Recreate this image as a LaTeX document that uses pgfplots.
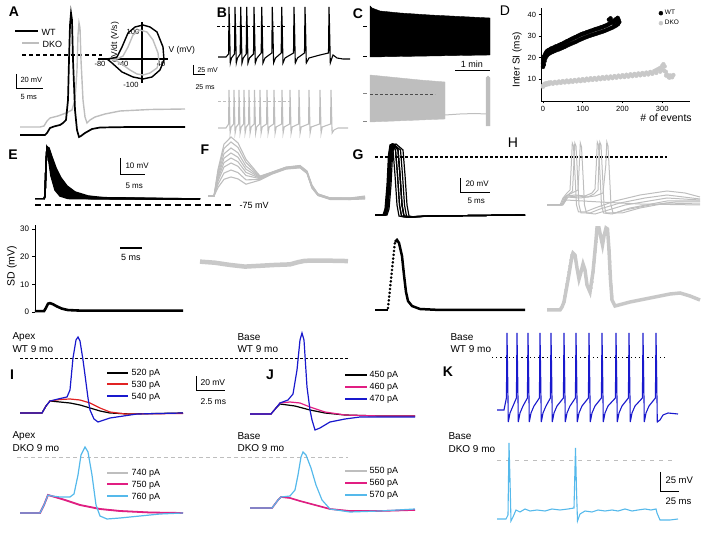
\documentclass[border=0pt]{standalone}
\usepackage{pgfplots}
\pgfplotsset{compat=1.18}
\usepackage{fontspec}
\setmainfont{Liberation Sans}
\newcommand{\fs}[1]{\fontsize{#1}{#1}\selectfont}
\definecolor{wtblue}{RGB}{25,25,205}
\definecolor{dkocyan}{RGB}{85,185,235}
\definecolor{mag}{RGB}{225,30,130}
\definecolor{redc}{RGB}{225,35,35}
\definecolor{gr}{RGB}{190,190,190}
\definecolor{grl}{RGB}{200,200,200}

\begin{document}
\begin{tikzpicture}
\path[use as bounding box] (0,0) rectangle (705pt,545pt);

% whole figure in pixel units (y down)
\begin{axis}[at={(0,0)}, anchor=south west, scale only axis,
  width=705pt, height=545pt, xmin=0, xmax=705, ymin=0, ymax=545,
  y dir=reverse, hide axis, clip=false]

% panel letters
\node[font=\fs{14}\bfseries] at (axis cs:14,12) {A};
\node[font=\fs{14}\bfseries] at (axis cs:222,13) {B};
\node[font=\fs{14}\bfseries] at (axis cs:358,14) {C};
\node[font=\fs{14}] at (axis cs:505,11) {D};
\node[font=\fs{14}\bfseries] at (axis cs:13,155) {E};
\node[font=\fs{14}\bfseries] at (axis cs:205,150) {F};
\node[font=\fs{14}\bfseries] at (axis cs:358,155) {G};
\node[font=\fs{14}] at (axis cs:513,143) {H};
\node[font=\fs{14}\bfseries] at (axis cs:12,375) {I};
\node[font=\fs{14}\bfseries] at (axis cs:270,375) {J};
\node[font=\fs{14}\bfseries] at (axis cs:448,372) {K};

% ---------- A ----------
\draw[black, line width=1.4pt] (axis cs:15,31) -- (axis cs:38,31);
\node[font=\fs{9}, anchor=west] at (axis cs:38,32) {WT};
\draw[gr, line width=1.4pt] (axis cs:22,43) -- (axis cs:39,43);
\node[font=\fs{9}, anchor=west] at (axis cs:39,44) {DKO};
\draw[black, line width=1.1pt, dash pattern=on 4pt off 3pt] (axis cs:22,55) -- (axis cs:102,55);
\draw[black, line width=1pt] (axis cs:16,74) -- (axis cs:16,89) -- (axis cs:43,89);
\node[font=\fs{7.5}, anchor=west] at (axis cs:17,80) {20 mV};
\node[font=\fs{7.5}, anchor=west] at (axis cs:17,97) {5 ms};
\addplot[gr, line width=1.4pt] coordinates {(20,127)(40,127)(44,126)(47,121)(50,118)(58,116)(66,113)(72,110)(75,100)(77,70)(78,35)(79,23)(80,28)(81,60)(83,100)(85,117)(87,123)(90,120)(95,117)(105,114)(120,111)(150,109.5)(185,109)};
\addplot[black, line width=1.7pt] coordinates {(20,135)(45,135)(47,133)(50,128)(54,126.5)(60,125)(63,123)(66,120)(68,100)(69,60)(70,25)(71,13)(72,20)(73,60)(75,110)(77,130)(79,137)(81,136)(85,133)(92,129)(100,127.5)(130,127)(185,127)};
% inset phase plot
\draw[black, line width=1.1pt] (axis cs:98,59) -- (axis cs:168,59);
\draw[black, line width=1.1pt] (axis cs:142,22) -- (axis cs:142,83);
\node[font=\fs{7.5}] at (axis cs:100,64) {-80};
\node[font=\fs{7.5}] at (axis cs:123,64) {-40};
\node[font=\fs{7.5}] at (axis cs:161,64) {40};
\node[font=\fs{7.5}] at (axis cs:133,32) {100};
\node[font=\fs{7.5}] at (axis cs:131,85) {-100};
\node[font=\fs{8.5}, rotate=90] at (axis cs:115,42) {dV/dt (V/s)};
\node[font=\fs{8.5}, anchor=west] at (axis cs:165,50) {V (mV)};
\addplot[gr, line width=1.4pt] coordinates {(110,59)(117,59)(123,56)(128,47)(133,35)(140,30)(147,32)(153,40)(158,53)(159,62)(157,68)(150,73)(143,75)(137,74)(130,70)(123,65)(117,61)(110,59)};
\addplot[black, line width=1.4pt] coordinates {(107,59)(113,58)(117,57)(122,47)(128,33)(135,27)(143,25)(150,27)(157,32)(163,47)(164,60)(160,70)(152,77)(143,79)(133,77)(122,72)(112,63)(107,59)};

% ---------- B ----------
\draw[black, line width=1pt, dash pattern=on 3pt off 2pt] (axis cs:217,27) -- (axis cs:285,27);
\addplot[black, line width=1.1pt] coordinates {(218,57)(226,57)(228.6,54)(229,7)(229.5,25)(230.3,63)(231.5,58)(234.5,54)(235,7)(235.5,25)(236.3,63)(237.5,58)(240.2,54)(240.7,7)(241.2,25)(242,63)(243.3,58)(246.2,54)(246.7,7)(247.2,25)(248,63)(249.5,58)(253.5,54)(254,7)(254.5,25)(255.3,63)(257,58)(261.2,53)(261.7,7)(262.2,25)(263,63)(265,58)(271.8,53)(272.3,7)(272.8,25)(273.6,63)(275.5,58)(281.2,53)(281.7,7)(282.2,25)(283,63)(285,58)(293.5,53)(294,7)(294.5,25)(295.3,63)(297.5,58)(304.5,53)(305,7)(305.5,25)(306.3,63)(309,58)(320,55)(328.5,53)(329,7)(329.5,25)(330.3,63)(333,55)(337,58)(343,59)(350,59)};
\draw[black, line width=1pt] (axis cs:193,65) -- (axis cs:193,75) -- (axis cs:205,75);
\node[font=\fs{7}, anchor=west] at (axis cs:194,70) {25 mV};
\node[font=\fs{7}, anchor=west] at (axis cs:192,87) {25 ms};
\draw[gr, line width=1pt, dash pattern=on 3pt off 2pt] (axis cs:218,102) -- (axis cs:290,102);
\addplot[gr, line width=1.1pt] coordinates {(218,128)(226,128)(228.6,124)(229,90)(229.4,105)(230.1,133)(231.2,127)(233.6,124)(234,90)(234.4,105)(235.1,133)(236.2,127)(238.6,124)(239,90)(239.4,105)(240.1,133)(241.2,127)(243.6,124)(244,90)(244.4,105)(245.1,133)(246.2,127)(248.6,124)(249,90)(249.4,105)(250.1,133)(251.2,127)(254.1,124)(254.5,90)(254.9,105)(255.6,133)(256.7,127)(259.6,124)(260,90)(260.4,105)(261.1,133)(262.2,127)(266.6,124)(267,90)(267.4,105)(268.1,133)(269.2,127)(273.6,124)(274,90)(274.4,105)(275.1,133)(276.2,127)(281.6,124)(282,90)(282.4,105)(283.1,133)(284.2,127)(289.6,124)(290,90)(290.4,105)(291.1,133)(292.2,127)(298.6,124)(299,90)(299.4,105)(300.1,133)(301.2,127)(308.6,124)(309,90)(309.4,105)(310.1,133)(311.2,127)(319.6,124)(320,90)(320.4,105)(321.1,133)(322.2,127)(330.6,124)(331,90)(331.4,105)(332.1,133)(334,130)(338,128)(348,128)};

% ---------- C ----------
\addplot[draw=black, fill=black] coordinates {(370,57)(370,6)(372,8)(380,11)(400,13)(430,15)(460,16.5)(490,18)(490,55)} --cycle;
\draw[black, line width=1pt] (axis cs:363,27) -- (axis cs:367,27);
\draw[black, line width=1pt] (axis cs:363,57) -- (axis cs:367,57);
\draw[black, line width=1pt] (axis cs:455,71) -- (axis cs:490,71);
\node[font=\fs{9}] at (axis cs:472,64) {1 min};
\addplot[draw=gr, fill=gr] coordinates {(370,122)(370,75)(380,76)(400,78)(420,80)(445,82)(445,119)} --cycle;
\addplot[gr, line width=1pt] coordinates {(445,115)(460,114)(475,113.5)(486,114)};
\addplot[draw=gr, fill=gr] coordinates {(486,126)(486,78)(488,76)(490,78)(490,126)} --cycle;
\draw[black!70, line width=0.8pt, dash pattern=on 3pt off 2pt] (axis cs:370,94) -- (axis cs:435,94);
\draw[gr!70!black, line width=1pt] (axis cs:363,94) -- (axis cs:367,94);
\draw[gr!70!black, line width=1pt] (axis cs:363,122) -- (axis cs:367,122);

% ---------- D labels ----------
\node[font=\fs{10}, rotate=90] at (axis cs:517,60) {Inter SI (ms)};
\node[font=\fs{10.5}] at (axis cs:666,118) {\# of events};

% ---------- E ----------
\addplot[draw=black, fill=black] coordinates {(46,165)(47,147)(49,148)(52,157)(56,168)(61,178)(67,186)(75,192)(88,196)(110,198.5)(110,199)(68,198.5)(60,196)(55,190)(51,176)(49,162)(47.5,150)(47,149)} --cycle;
\addplot[black, line width=1.5pt] coordinates {(35,199)(44,199)(45,196)(46,165)(47,147)(49,148)(52,157)(56,168)(61,178)(67,186)(75,192)(88,196)(110,198.5)(200,199)};
\addplot[black, line width=1.5pt] coordinates {(44,199)(45,196)(46,165)(47,147)(48.5,148)(51,156)(55,170)(60,181)(66,189)(74,194)(88,197.5)(200,199)};
\addplot[black, line width=1.5pt] coordinates {(44,199)(45,196)(46,165)(47,147)(48,148)(50,157)(54,172)(58,183)(64,191)(72,195.5)(90,198.5)(200,199)};
\addplot[black, line width=1.5pt] coordinates {(44,199)(45,196)(46,165)(47,147)(48,149)(50,160)(53,174)(57,186)(62,192)(70,196.5)(90,198.7)(200,199)};
\addplot[black, line width=1.5pt] coordinates {(44,199)(45,196)(46,165)(47,148)(47.5,149)(49,158)(52,175)(56,188)(61,194)(68,197.5)(200,199)};
\addplot[black, line width=1.5pt] coordinates {(44,199)(45,196)(46,165)(47,149)(47.5,150)(49,162)(51,176)(55,190)(60,196)(68,198.5)(200,199)};
\draw[black, line width=1pt] (axis cs:120,158) -- (axis cs:120,175) -- (axis cs:145,175);
\node[font=\fs{8}, anchor=west] at (axis cs:122,166) {10 mV};
\node[font=\fs{8}, anchor=west] at (axis cs:122,186) {5 ms};
\draw[black, line width=1.1pt, dash pattern=on 6pt off 4pt] (axis cs:35,205) -- (axis cs:232,205);
\node[font=\fs{9}, anchor=west] at (axis cs:236,205) {-75 mV};
\draw[black, line width=1.2pt] (axis cs:120,248) -- (axis cs:142,248);
\node[font=\fs{9}] at (axis cs:131,257) {5 ms};
\node[font=\fs{10.5}, rotate=90] at (axis cs:12,266) {SD (mV)};

% ---------- F ----------
\addplot[gr, line width=1.1pt] coordinates {(208,196)(214,196)(218,169.5)(224,144.1)(231,137)(238,142.9)(246,159.4)(260,176.1)(272,172.1)(286,167.1)(300,165.5)(307,171)(312,185)(318,194)(330,198)(350,198)(365,196)};
\addplot[gr, line width=1.1pt] coordinates {(208,196)(214,196)(218,171.7)(224,148.5)(231,142)(238,147.4)(246,162.5)(260,176.6)(272,172.3)(286,167.3)(300,165.8)(307,171.5)(312,186)(318,194)(330,198)(350,198)(365,197)};
\addplot[gr, line width=1.1pt] coordinates {(208,196)(214,196)(218,174.4)(224,153.8)(231,148)(238,152.8)(246,166.2)(260,177.2)(272,172.6)(286,167.6)(300,166.1)(307,172)(312,186)(318,194.5)(330,198)(350,198.5)(365,197)};
\addplot[gr, line width=1.1pt] coordinates {(208,196)(214,196)(218,176.7)(224,158.2)(231,153)(238,157.3)(246,169.3)(260,177.7)(272,172.9)(286,167.9)(300,166.4)(307,172)(312,187)(318,194.5)(330,198.5)(350,198.5)(365,197.5)};
\addplot[gr, line width=1.1pt] coordinates {(208,196)(214,196)(218,178.9)(224,162.6)(231,158)(238,161.8)(246,172.4)(260,178.2)(272,173.1)(286,168.1)(300,166.7)(307,172.5)(312,187)(318,195)(330,198.5)(350,199)(365,198)};
\addplot[gr, line width=1.1pt] coordinates {(208,196)(214,196)(218,181.2)(224,167)(231,163)(238,166.3)(246,175.5)(260,178.7)(272,173.4)(286,168.4)(300,167)(307,173)(312,187.5)(318,195)(330,199)(350,199)(365,198)};
\addplot[gr, line width=1.1pt] coordinates {(208,196)(214,196)(218,184.3)(224,173.1)(231,170)(238,172.6)(246,179.9)(260,179.4)(272,173.7)(286,168.7)(300,167.4)(307,173)(312,188)(318,195.5)(330,199)(350,199.5)(365,198.5)};
\addplot[gr, line width=1.1pt] coordinates {(208,196)(214,196)(218,187.5)(224,179.3)(231,177)(238,178.9)(246,184.2)(260,180.1)(272,174.1)(286,169.1)(300,167.9)(307,173.5)(312,188)(318,195.5)(330,199.5)(350,199.5)(365,199)};

% ---------- G ----------
\draw[black, line width=1.1pt, dash pattern=on 3pt off 2pt] (axis cs:375,157) -- (axis cs:667,157);
\addplot[black, line width=1.2pt] coordinates {(375,215)(383,215)(385,209)(387,185)(388.5,155)(390,145)(392,144)(393,150)(395,175)(397,205)(399,216)(404,217)(430,216)(525,215)};
\addplot[black, line width=1.2pt] coordinates {(375,215)(383.5,215)(385.5,209)(387.5,185)(389,155)(390.5,145)(392.5,144)(395.5,150)(397.5,175)(399.5,205)(401.5,216)(406.5,217)(430,216)(525,215)};
\addplot[black, line width=1.2pt] coordinates {(375,215)(384,215)(386,209)(388,185)(389.5,155)(391,145)(393,144)(398,150)(400,175)(402,205)(404,216)(409,217)(430,216)(525,215)};
\addplot[black, line width=1.2pt] coordinates {(375,215)(384.5,215)(386.5,209)(388.5,185)(390,155)(391.5,145)(393.5,146)(395.5,150)(397.5,175)(399.5,205)(401.5,216)(406.5,217)(430,216)(525,215)};
\addplot[black, line width=1.2pt] coordinates {(375,215)(385,215)(387,209)(389,185)(390.5,155)(392,145)(394,144)(398,150)(400,175)(402,205)(404,216)(409,217)(430,216)(525,215)};
\addplot[black, line width=1.2pt] coordinates {(375,215)(385.5,215)(387.5,209)(389.5,185)(391,155)(392.5,146)(394.5,145)(400.5,150)(402.5,175)(404.5,205)(406.5,216)(411.5,217)(430,216)(525,215)};
\addplot[black, line width=1.2pt] coordinates {(375,215)(386,215)(388,209)(390,185)(391.5,155)(393,147)(395,146)(398,150)(400,175)(402,205)(404,216)(409,217)(430,216)(525,215)};
\addplot[black, line width=1.2pt] coordinates {(375,215)(387,215)(389,209)(391,185)(392.5,155)(394,145)(396,144)(403,150)(405,175)(407,205)(409,216)(414,217)(430,216)(525,215)};
\draw[black, line width=1pt] (axis cs:460,178) -- (axis cs:460,193) -- (axis cs:490,193);
\node[font=\fs{8}, anchor=west] at (axis cs:462,184) {20 mV};
\node[font=\fs{8}, anchor=west] at (axis cs:464,201) {5 ms};
% G SD
\addplot[black, line width=2.5pt] coordinates {(375,310)(388,310)};
\addplot[only marks, mark=*, mark size=1.1pt, black] coordinates {(388,308)(388.4,304.2)(388.8,300.4)(389.2,296.6)(389.6,292.8)(390,289)(390.4,285.2)(390.8,281.4)(391.2,277.6)(391.6,273.8)(392,270)(392.4,266.2)(392.8,262.4)(393.2,258.6)(393.6,254.8)(394,251)(394.4,247.2)(394.8,243.4)};
\addplot[black, line width=2.5pt] coordinates {(395,242)(397,240)(399,243)(402,256)(404,275)(406,292)(408,301)(412,306)(420,309)(440,310)(525,310)};

% ---------- H ----------
\addplot[gr, line width=1pt] coordinates {(547,205)(562,205)(566,200)(600,202)(640,204)(700,205)};
\addplot[gr, line width=1pt] coordinates {(547,205)(560,205)(563,198)(567,193)(570,190)(571.3,165)(572.3,143)(573.5,146)(575,175)(576.5,205)(578.5,212)(585,212)(595,208)(615,201)(640,195)(667,191)(685,193)(700,197)};
\addplot[gr, line width=1pt] coordinates {(547,205)(561,205)(564,198)(569,194)(572.5,191)(573.8,165)(574.8,143)(576,146)(577.5,175)(579,205)(581,213)(590,213)(600,209)(620,203)(645,198)(667,195)(700,199)};
\addplot[gr, line width=1pt] coordinates {(547,205)(562,205)(566,196)(572,193)(578,190)(579.3,165)(580.3,143)(581.5,147)(583,175)(584.5,205)(586.5,213)(595,214)(605,211)(625,205)(667,198)(700,200)};
\addplot[gr, line width=1pt] coordinates {(547,205)(562,205)(567,196)(575,195)(585,196)(592,193)(595,189)(596.3,165)(597.3,142)(598.5,145)(600,175)(601.5,205)(603.5,213)(612,214)(625,210)(650,205)(675,202)(700,202)};
\addplot[gr, line width=1pt] coordinates {(547,205)(563,205)(568,197)(578,196)(588,197)(594,194)(598,190)(598.8,165)(599.8,142)(601,145)(602.5,175)(604,205)(606,213)(615,213)(630,208)(667,201)(700,201)};
\addplot[gr, line width=1pt] coordinates {(547,205)(562,205)(567,197)(580,198)(595,196)(603,193)(605.8,165)(606.8,142)(608,146)(609.5,175)(611,205)(613,213)(622,213)(640,208)(667,203)(700,204)};
% H SD
\addplot[grl, line width=3.5pt] coordinates {(547,310)(560,310)(562,307)(564,302)(568,280)(572,256)(573,253)(575,255)(577,268)(579,279)(581,272)(583,264)(585,270)(587,285)(590,292)(593,272)(596,240)(597,228)(599,228)(601,238)(602.5,245)(604,236)(606,228)(607.5,229)(609,250)(610.5,280)(612,300)(615,306)(630,302)(650,298)(670,294)(680,293)(690,296)(700,300)};
\addplot[only marks, mark=*, mark size=1.6pt, grl] coordinates {(564,302)(565,296)(566,290)(567,284)(568,278)(569,272)(570,266)(571,260)(572,255)(591,288)(592,282)(593,272)(594,262)(595,252)(596,242)(596.7,234)(609,250)(609.7,262)(610.3,274)(611,286)(611.7,296)};

% ---------- I ----------
\node[font=\fs{10}, anchor=west] at (axis cs:9,337) {Apex};
\node[font=\fs{10}, anchor=west] at (axis cs:9,349) {WT 9 mo};
\node[font=\fs{10}, anchor=west] at (axis cs:9,436) {Apex};
\node[font=\fs{10}, anchor=west] at (axis cs:9,448) {DKO 9 mo};
\draw[black, line width=1pt, dash pattern=on 3pt off 2pt] (axis cs:20,359) -- (axis cs:348,359);
\draw[gr, line width=1pt, dash pattern=on 4pt off 3pt] (axis cs:17,458) -- (axis cs:348,458);
\draw[black, line width=1.2pt] (axis cs:107,373) -- (axis cs:128,373);
\draw[redc, line width=1.2pt] (axis cs:107,384) -- (axis cs:128,384);
\draw[wtblue, line width=1.2pt] (axis cs:107,396) -- (axis cs:128,396);
\node[font=\fs{9}, anchor=west] at (axis cs:128,373) {520 pA};
\node[font=\fs{9}, anchor=west] at (axis cs:128,385) {530 pA};
\node[font=\fs{9}, anchor=west] at (axis cs:128,397) {540 pA};
\draw[gr, line width=1.2pt] (axis cs:107,473) -- (axis cs:128,473);
\draw[mag, line width=1.8pt] (axis cs:107,484) -- (axis cs:128,484);
\draw[dkocyan, line width=1.2pt] (axis cs:107,496) -- (axis cs:128,496);
\node[font=\fs{9}, anchor=west] at (axis cs:128,473) {740 pA};
\node[font=\fs{9}, anchor=west] at (axis cs:128,485) {750 pA};
\node[font=\fs{9}, anchor=west] at (axis cs:128,497) {760 pA};
\draw[black, line width=1pt] (axis cs:196,376) -- (axis cs:196,391) -- (axis cs:225,391);
\node[font=\fs{8.5}, anchor=west] at (axis cs:197,383) {20 mV};
\node[font=\fs{8.5}, anchor=west] at (axis cs:197,402) {2.5 ms};
\addplot[black, line width=1.2pt] coordinates {(20,413)(42,413)(46,406)(50,401)(60,402)(70,403)(80,405)(90,408)(100,411)(110,413)(130,414)(183,413)};
\addplot[redc, line width=1.2pt] coordinates {(20,413)(42,413)(46,406)(50,401)(60,399.5)(70,399)(80,400)(90,403)(100,408)(110,412)(125,414)(183,413.5)};
\addplot[wtblue, line width=1.2pt] coordinates {(20,413)(42,413)(46,406)(50,401)(58,399)(67,397)(70,390)(73,358)(76,340)(78,337)(80,341)(83,360)(85,375)(88,398)(90,410)(94,419)(98,422)(110,418)(137,414)(183,413)};
\addplot[gr, line width=1.2pt] coordinates {(20,513)(40,513)(44,505)(48,495)(55,497)(65,500)(80,505)(100,509)(120,511)(150,512.5)(183,513)};
\addplot[mag, line width=1.8pt] coordinates {(20,513)(40,513)(44,505)(48,495)(55,497)(65,500)(80,505)(100,509)(120,511)(150,512.5)(183,513)};
\addplot[dkocyan, line width=1.2pt] coordinates {(20,513)(40,513)(44,505)(48,495)(52,496)(60,497)(70,497)(74,494)(78,475)(81,455)(85,447)(88,452)(92,475)(96,505)(100,516)(107,519)(120,518)(140,516)(160,514)(183,513)};

% ---------- J ----------
\node[font=\fs{10}, anchor=west] at (axis cs:234,337) {Base};
\node[font=\fs{10}, anchor=west] at (axis cs:234,349) {WT 9 mo};
\node[font=\fs{10}, anchor=west] at (axis cs:234,436) {Base};
\node[font=\fs{10}, anchor=west] at (axis cs:234,448) {DKO 9 mo};
\draw[black, line width=1.2pt] (axis cs:345,375) -- (axis cs:367,375);
\draw[mag, line width=1.2pt] (axis cs:345,387) -- (axis cs:367,387);
\draw[wtblue, line width=1.2pt] (axis cs:345,399) -- (axis cs:367,399);
\node[font=\fs{9}, anchor=west] at (axis cs:366,375) {450 pA};
\node[font=\fs{9}, anchor=west] at (axis cs:366,387) {460 pA};
\node[font=\fs{9}, anchor=west] at (axis cs:366,399) {470 pA};
\draw[gr, line width=1.2pt] (axis cs:345,471) -- (axis cs:367,471);
\draw[mag, line width=1.2pt] (axis cs:345,483) -- (axis cs:367,483);
\draw[dkocyan, line width=1.2pt] (axis cs:345,495) -- (axis cs:367,495);
\node[font=\fs{9}, anchor=west] at (axis cs:366,471) {550 pA};
\node[font=\fs{9}, anchor=west] at (axis cs:366,483) {560 pA};
\node[font=\fs{9}, anchor=west] at (axis cs:366,495) {570 pA};
\addplot[black, line width=1.2pt] coordinates {(250,414)(271,414)(276,408)(280,404)(295,406)(310,410)(325,413)(345,415)(380,416)(415,416)};
\addplot[mag, line width=1.2pt] coordinates {(250,414)(271,414)(276,408)(280,403)(290,402)(300,403)(310,407)(325,412)(345,415)(380,416)(415,416)};
\addplot[wtblue, line width=1.2pt] coordinates {(250,414)(271,414)(276,408)(280,403)(288,400)(293,394)(297,370)(300,340)(302,333)(304,340)(307,387)(310,410)(312,420)(315,430)(320,428)(330,422)(345,419)(360,417)(415,417)};
\addplot[gr, line width=1.2pt] coordinates {(250,508)(272,508)(278,500)(281,497)(290,498)(300,501)(315,505)(330,509)(350,511)(380,511)(415,510)};
\addplot[mag, line width=1.6pt] coordinates {(250,508)(272,508)(278,500)(281,497)(290,498)(300,501)(315,505)(330,509)(350,511)(380,511)(415,510)};
\addplot[dkocyan, line width=1.2pt] coordinates {(250,508)(272,508)(278,500)(281,497)(290,496)(295,490)(298,475)(301,457)(303,452)(306,455)(311,468)(316,485)(322,500)(330,509)(350,512)(380,511)(415,509)};

% ---------- K ----------
\node[font=\fs{10}, anchor=west] at (axis cs:447,337) {Base};
\node[font=\fs{10}, anchor=west] at (axis cs:447,349) {WT 9 mo};
\node[font=\fs{10}, anchor=west] at (axis cs:445,436) {Base};
\node[font=\fs{10}, anchor=west] at (axis cs:445,449) {DKO 9 mo};
\draw[black, line width=1pt, dash pattern=on 1.2pt off 3pt] (axis cs:492,358) -- (axis cs:668,358);
\draw[gr, line width=1pt, dash pattern=on 4pt off 5pt] (axis cs:497,461) -- (axis cs:673,461);
\addplot[wtblue, line width=1.1pt] coordinates {(497,410)(504,410)(506.4,398)(507,333)(507.6,370)(508.3,422)(510,413)(513,406)(516.4,398)(517,333)(517.6,370)(518.3,422)(520,413)(523,406)(527.4,398)(528,333)(528.6,370)(529.3,422)(531,413)(534,406)(539.4,398)(540,333)(540.6,370)(541.3,422)(543,413)(546,406)(550.4,398)(551,333)(551.6,370)(552.3,422)(554,413)(557,406)(563.4,398)(564,333)(564.6,370)(565.3,422)(567,413)(570,406)(575.4,398)(576,333)(576.6,370)(577.3,422)(579,413)(582,406)(588.4,398)(589,333)(589.6,370)(590.3,422)(592,413)(595,406)(601.4,398)(602,333)(602.6,370)(603.3,422)(605,413)(608,406)(615.4,398)(616,333)(616.6,370)(617.3,422)(619,413)(622,406)(628.4,398)(629,333)(629.6,370)(630.3,422)(632,413)(635,406)(642.4,398)(643,333)(643.6,370)(644.3,422)(646,413)(649,406)(655.4,398)(656,333)(656.6,370)(657.3,422)(660,420)(663,415)(668,413)(678,414)};
\addplot[dkocyan, line width=1.1pt] coordinates {(497,519)(506,519)(508,515)(509,443)(510,480)(511,521)(513,517)(516,510)(520,512)(525,509)(530,511)(537,510)(545,511)(552,509)(560,510)(568,509)(574,508)(575.5,448)(576.5,490)(577.5,521)(580,514)(585,511)(592,512)(598,510)(605,511)(612,510)(618,511)(625,509)(632,511)(638,510)(645,509)(651,510)(656,509)(657,513)(660,520)(670,520)(678,519)};
\draw[black, line width=1pt] (axis cs:660,472) -- (axis cs:660,492) -- (axis cs:679,492);
\node[font=\fs{9.5}, anchor=west] at (axis cs:662,480) {25 mV};
\node[font=\fs{9.5}, anchor=west] at (axis cs:662,501) {25 ms};
\end{axis}

% ---------- D : inter-spike interval ----------
\begin{axis}[at={(541pt,444pt)}, anchor=south west, scale only axis,
  width=149pt, height=93pt, xmin=-5, xmax=370, ymin=0, ymax=43,
  axis x line*=bottom, axis y line*=left, axis line style={line width=0.9pt},
  xtick={0,100,200,300}, ytick={10,20,30,40},
  tick align=outside, major tick length=2.5pt, tick style={black, line width=0.8pt},
  tick label style={font=\fs{7.5}}, /pgf/number format/assume math mode=true,
  xticklabel style={yshift=1pt}, yticklabel style={xshift=1pt},
  legend style={draw=none, fill=none, font=\fs{6.5}, at={(0.79,1.0)}, anchor=north west, inner sep=0pt, row sep=0pt},
  legend cell align=left, clip=false]
\addplot[only marks, mark=*, mark size=2pt, black] coordinates {(0,17.5)(1,18.5)(2,19.5)(3,20.5)(4,21)(6,21.8)(8,22.5)(10,23)(13,23.4)(16,23.7)(20,24.2)(24,24.4)(28,24.8)(32,25.2)(36,25.3)(40,25.8)(44,26.1)(48,26.4)(52,26.8)(56,27.2)(60,27.6)(64,27.9)(68,28.3)(72,28.7)(76,29)(80,29.4)(84,29.7)(88,30.1)(92,30.4)(96,30.8)(100,31.1)(104,31.3)(108,31.6)(112,31.9)(116,32.1)(120,32.4)(124,32.6)(128,32.9)(132,33.2)(136,33.4)(140,33.6)(144,33.9)(148,34.1)(152,34.4)(156,34.7)(160,35)(164,35.4)(168,35.8)(172,36.3)(176,36.8)(180,37.3)(184,37.9)(188,38.4)(170,38.2)(166,37.6)(178,36)(186,36.7)(190,37.6)};
\addlegendentry{WT}
\addplot[only marks, mark=*, mark size=2pt, grl] coordinates {(0,7)(2,7.6)(5,8)(10,8.3)(15,8.5)(20,8.6)(30,8.8)(40,9)(50,9.2)(60,9.4)(70,9.5)(80,9.7)(90,9.9)(100,10.1)(110,10.3)(120,10.5)(130,10.6)(140,10.8)(150,11)(160,11.2)(170,11.3)(180,11.5)(190,11.7)(200,11.9)(210,12.1)(220,12.3)(230,12.5)(240,12.7)(250,12.9)(260,13.1)(270,13.4)(280,13.8)(285,14.3)(290,14.8)(295,15.3)(300,16.2)(303,17)(306,16)(309,13.5)(312,12.2)(316,11.2)(320,11.8)(324,11.4)(328,12)};
\addlegendentry{DKO}
\addplot[only marks, mark=*, mark size=2pt, black, forget plot] coordinates {(0,15.8)(1,16.5)(2,17)(4,18.5)(6,19.8)(9,20.8)(12,21.5)(16,22)(20,22.4)(25,22.8)(30,23.2)(35,23.6)(40,23.9)(45,24.3)(50,24.7)(55,25.1)(60,25.6)(65,26)(70,26.4)(75,26.8)(80,27.2)(85,27.6)(90,28.1)(95,28.5)(100,28.9)(105,29.3)(110,29.6)(115,30)(120,30.3)(125,30.6)(130,30.9)(135,31.2)(140,31.5)(145,31.8)(150,32.1)(155,32.4)(160,32.8)(165,33.2)(170,33.6)(175,34)(180,34.5)(185,35)(189,35.6)(192,36.5)};
\addplot[only marks, mark=*, mark size=2pt, grl, forget plot] coordinates {(0,6.6)(3,7.2)(8,7.5)(15,7.8)(25,8)(35,8.2)(45,8.4)(55,8.6)(65,8.7)(75,8.9)(85,9.1)(95,9.2)(105,9.4)(115,9.6)(125,9.8)(135,9.9)(145,10.1)(155,10.3)(165,10.4)(175,10.6)(185,10.8)(195,11)(205,11.1)(215,11.3)(225,11.5)(235,11.7)(245,11.9)(255,12.1)(265,12.3)(275,12.6)(285,13)(295,13.6)(300,14.5)(305,14)(310,11.8)(318,10.8)(325,11)};
\end{axis}

% ---------- E lower : SD ----------
\begin{axis}[at={(35pt,233pt)}, anchor=south west, scale only axis,
  width=315pt, height=86.9pt, xmin=35, xmax=350, ymin=0, ymax=31.4,
  axis y line*=left, axis x line=none, axis line style={line width=0.9pt},
  ytick={0,10,20,30}, xtick=\empty,
  tick align=outside, major tick length=2.5pt, tick style={black, line width=0.8pt},
  tick label style={font=\fs{8}}, /pgf/number format/assume math mode=true,
  clip=false]
\addplot[black, line width=2.6pt] coordinates {(35,0.3)(44,0.3)(46,1.5)(48,3)(50,3.2)(53,2.8)(57,2)(62,1.2)(68,0.7)(80,0.5)(183,0.5)};
\addplot[grl, line width=4.5pt] coordinates {(200,18.2)(215,17.8)(230,17)(245,16.4)(260,16.7)(275,17)(290,17.2)(298,18)(305,18.5)(320,18.6)(335,18.5)(348,18.4)};
\end{axis}
\end{tikzpicture}
\end{document}
